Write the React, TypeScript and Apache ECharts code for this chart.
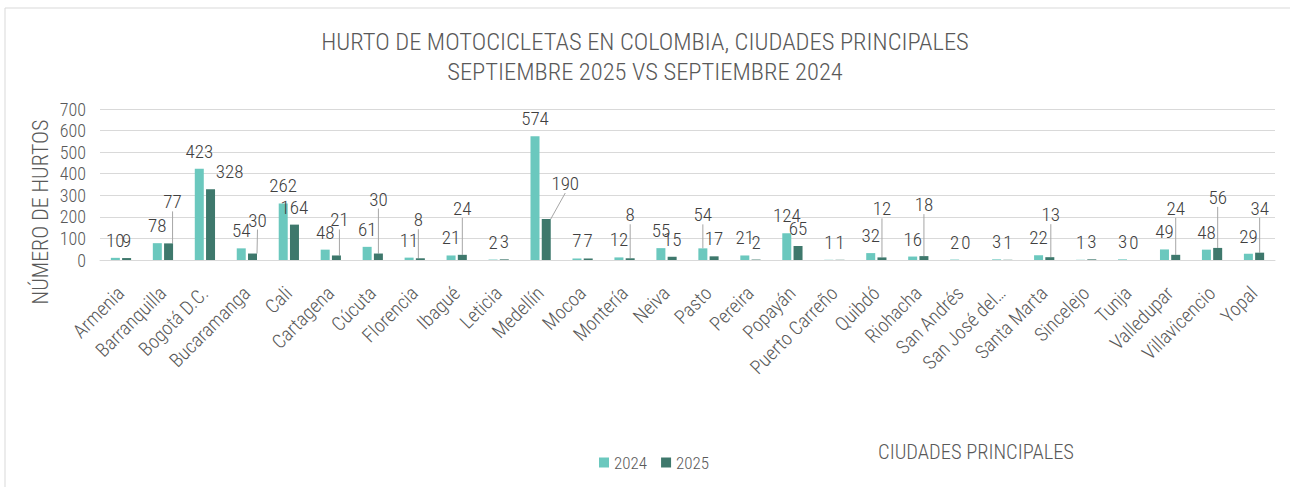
import React, { useEffect, useRef } from "react";
import * as echarts from "echarts";

const categories = [
  "Armenia", "Barranquilla", "Bogotá D.C.", "Bucaramanga", "Cali", "Cartagena", "Cúcuta",
  "Florencia", "Ibagué", "Leticia", "Medellín", "Mocoa", "Montería", "Neiva", "Pasto",
  "Pereira", "Popayán", "Puerto Carreño", "Quibdó", "Riohacha", "San Andrés",
  "San José del Guaviare", "Santa Marta", "Sincelejo", "Tunja", "Valledupar", "Villavicencio", "Yopal",
];
const values2024 = [10, 78, 423, 54, 262, 48, 61, 11, 21, 2, 574, 7, 12, 55, 54, 21, 124, 1, 32, 16, 2, 3, 22, 1, 3, 49, 48, 29];
const values2025 = [9, 77, 328, 30, 164, 21, 30, 8, 24, 3, 190, 7, 8, 15, 17, 2, 65, 1, 12, 18, 0, 1, 13, 3, 0, 24, 56, 34];
const yTicks = [0, 100, 200, 300, 400, 500, 600, 700];

// label placement tweaks (Excel manually moved labels, some with leader lines): [dx, dy, leaderLine]
const labelShift2024: Record<string, [number, number, boolean]> = { Pasto: [0, -16, true] };
const labelShift2025: Record<string, [number, number, boolean]> = {
  Barranquilla: [4, -24, true], "Bogotá D.C.": [19, 0, false], Bucaramanga: [5, -16, true],
  Cartagena: [3, -18, true], "Cúcuta": [0, -37, true], Florencia: [-2, -21, true],
  "Ibagué": [0, -29, true], "Medellín": [19, -18, true], "Montería": [0, -26, true],
  "Quibdó": [0, -31, true], Riohacha: [0, -34, true], "Santa Marta": [1, -25, true],
  Valledupar: [0, -29, true], Villavicencio: [0, -33, true], Yopal: [0, -27, true],
};

const FONT = "'Roboto Condensed', 'Liberation Sans Narrow', 'Arial Narrow', sans-serif";
const FW = 300;
const C2024 = "#6BC8BE";
const C2025 = "#3E786C";

export default function App() {
  const ref = useRef<HTMLDivElement>(null);
  useEffect(() => {
    document.body.style.margin = "0";
    const chart = echarts.init(ref.current!, undefined, { renderer: "svg" });
    const mkData = (vals: number[], shifts: Record<string, [number, number, boolean]>) =>
      vals.map((v, i) => {
        const s = shifts[categories[i]];
        return { value: v, labelLine: { show: !!(s && s[2]) } };
      });
    const mkLayout = (shifts: Record<string, [number, number, boolean]>) => (p: any) => {
      const s = shifts[categories[p.dataIndex]];
      return s ? { dx: s[0], dy: s[1] } : {};
    };
    const labelCfg = {
      show: true, position: "top", distance: 8, fontSize: 19, color: "#404040", fontFamily: FONT, fontWeight: FW,
    };
    const labelLineCfg = { lineStyle: { color: "#A6A6A6", width: 1 } };
    chart.setOption({
      animation: false,
      backgroundColor: "#fff",
      textStyle: { fontFamily: FONT, fontWeight: FW },
      title: {
        text: "HURTO DE MOTOCICLETAS EN COLOMBIA, CIUDADES PRINCIPALES\nSEPTIEMBRE 2025 VS SEPTIEMBRE 2024",
        left: "center", top: 21,
        textStyle: { fontSize: 24.5, fontWeight: FW, color: "#595959", lineHeight: 30, fontFamily: FONT },
      },
      legend: {
        left: 594, top: 449, itemWidth: 10, itemHeight: 10, itemGap: 14, icon: "rect",
        textStyle: { fontSize: 17, color: "#595959", fontFamily: FONT, fontWeight: FW },
        data: ["2024", "2025"],
      },
      grid: { left: 100, right: 15, top: 109, bottom: 227, containLabel: false },
      xAxis: {
        type: "category", data: categories,
        axisLine: { lineStyle: { color: "#D9D9D9" } },
        axisTick: { show: false },
        axisLabel: {
          rotate: 45, interval: 0, fontSize: 19.5, color: "#595959", margin: 30, fontFamily: FONT, fontWeight: FW,
          formatter: (v: string) => (v.length > 16 ? v.slice(0, 12) + "…" : v),
        },
      },
      yAxis: {
        type: "value", min: yTicks[0], max: yTicks[yTicks.length - 1], interval: 100,
        axisLine: { show: false }, axisTick: { show: false },
        splitLine: { lineStyle: { color: "#D9D9D9" } },
        axisLabel: { fontSize: 18, color: "#595959", margin: 14, fontFamily: FONT, fontWeight: FW },
      },
      graphic: [
        { type: "rect", shape: { x: 5, y: 8, width: 1300, height: 500 }, style: { fill: "none", stroke: "#D9D9D9", lineWidth: 1 }, silent: true },
        { type: "text", x: 40, y: 212, rotation: Math.PI / 2, style: { text: "NÚMERO DE HURTOS", fontSize: 22, fill: "#595959", fontFamily: FONT, fontWeight: FW, align: "center", verticalAlign: "middle" } },
        { type: "text", x: 976, y: 452, style: { text: "CIUDADES PRINCIPALES", fontSize: 20.5, fill: "#595959", fontFamily: FONT, fontWeight: FW, align: "center", verticalAlign: "middle" } },
      ],
      series: [
        {
          name: "2024", type: "bar", data: mkData(values2024, labelShift2024), barWidth: 9, barGap: "25%",
          itemStyle: { color: C2024 }, label: labelCfg, labelLine: labelLineCfg,
          labelLayout: mkLayout(labelShift2024),
        },
        {
          name: "2025", type: "bar", data: mkData(values2025, labelShift2025), barWidth: 9, barGap: "25%",
          itemStyle: { color: C2025 }, label: labelCfg, labelLine: labelLineCfg,
          labelLayout: mkLayout(labelShift2025),
        },
      ],
    });
    return () => chart.dispose();
  }, []);
  return <div ref={ref} style={{ width: 1290, height: 487, position: "absolute", left: 0, top: 0 }} />;
}
